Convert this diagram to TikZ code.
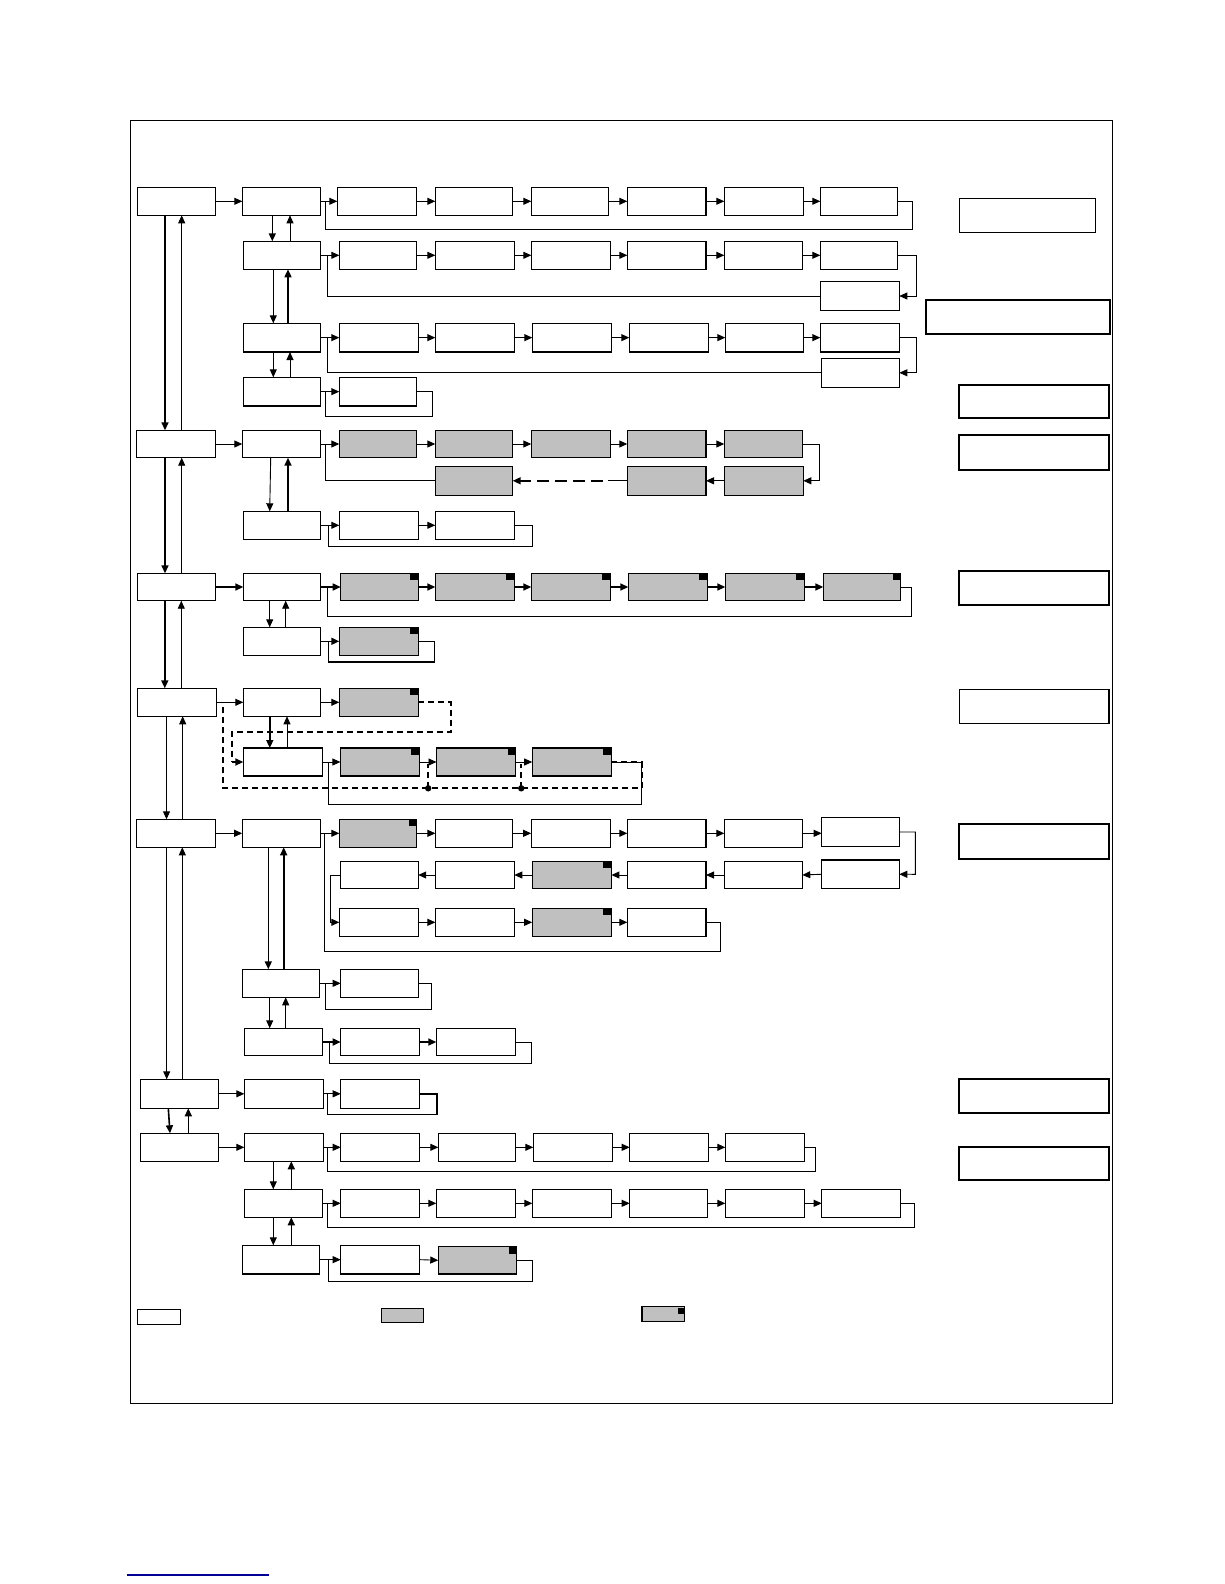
\documentclass[tikz,border=0pt]{standalone}
\usetikzlibrary{arrows.meta}
\definecolor{gr}{RGB}{192,192,192}
\definecolor{lnk}{RGB}{0,0,150}
\newcommand\mkbox[6]{%
 \pgfmathsetmacro\mkw{#5-#3}\pgfmathsetmacro\mkh{#6-#4}%
 \pgfmathsetmacro\mkx{(#3+#5)/2}\pgfmathsetmacro\mky{(#4+#6)/2}%
 \node[#1,minimum width=\mkw pt,minimum height=\mkh pt] (#2) at (\mkx,\mky) {};}
\tikzset{
 wb/.style={draw,line width=1.2pt,fill=white,inner sep=0pt,outer sep=0pt},
 gb/.style={wb,fill=gr},
 mb/.style={gb,path picture={\fill[black] ([xshift=-8pt,yshift=-7pt]path picture bounding box.north east) rectangle (path picture bounding box.north east);}},
 rb/.style={draw,line width=2pt,inner sep=0pt,outer sep=0pt},
 rbt/.style={draw,line width=1.2pt,inner sep=0pt,outer sep=0pt},
 ln/.style={line width=0.9pt},
 arr/.style={line width=0.9pt,-{Triangle[length=8pt,width=7pt]}},
 tarr/.style={line width=1.6pt,-{Triangle[length=8pt,width=7pt]}},
 tln/.style={line width=1.6pt},
 dsh/.style={line width=1.7pt,dash pattern=on 6pt off 4pt},
 ldsh/.style={line width=1.5pt,dash pattern=on 12pt off 6pt,-{Triangle[length=8pt,width=7pt]}}
}
\begin{document}
\begin{tikzpicture}[x=1pt,y=-1pt]
\useasboundingbox (0,0) rectangle (1224,1584);
\draw[line width=1pt] (130.3,120.3) rectangle (1112.3,1403.5);
% ---------- Row 1
\mkbox{wb}{A1}{137.3}{187.3}{215.3}{215.3}
\mkbox{wb}{B1}{242.3}{187.3}{320.7}{215.3}
\mkbox{wb}{r1c2}{337.3}{187.3}{416.7}{215.3}
\mkbox{wb}{r1c3}{435.3}{187.3}{512.7}{215.3}
\mkbox{wb}{r1c4}{531.3}{187.3}{608.7}{215.3}
\mkbox{wb}{r1c5}{627.3}{187.3}{706}{215.3}
\mkbox{wb}{r1c6}{724.3}{187.3}{803.3}{215.3}
\mkbox{wb}{r1c7}{820.3}{187.3}{897.7}{215.3}
\draw[arr] (A1.east) -- (B1.west);
\draw[arr] (B1.east) -- (r1c2.west);
\draw[arr] (r1c2.east) -- (r1c3.west);
\draw[arr] (r1c3.east) -- (r1c4.west);
\draw[arr] (r1c4.east) -- (r1c5.west);
\draw[arr] (r1c5.east) -- (r1c6.west);
\draw[arr] (r1c6.east) -- (r1c7.west);
\draw[ln] (r1c7.east) -| (912.3,229) -| (325.7,201.3);
% ---------- Row 2
\mkbox{wb}{B2}{243.3}{241.3}{320.7}{269.3}
\mkbox{wb}{r2c2}{339.3}{241.3}{416.7}{269.3}
\mkbox{wb}{r2c3}{435.3}{241.3}{514.3}{269.3}
\mkbox{wb}{r2c4}{531.3}{241.3}{610.3}{269.3}
\mkbox{wb}{r2c5}{627.3}{241.3}{706}{269.3}
\mkbox{wb}{r2c6}{724.3}{241.3}{802.3}{269.3}
\mkbox{wb}{r2c7}{820.3}{241.3}{897.7}{269.3}
\mkbox{wb}{r2x}{820.3}{281.7}{899.3}{310.3}
\draw[arr] (B2.east) -- (r2c2.west);
\draw[arr] (r2c2.east) -- (r2c3.west);
\draw[arr] (r2c3.east) -- (r2c4.west);
\draw[arr] (r2c4.east) -- (r2c5.west);
\draw[arr] (r2c5.east) -- (r2c6.west);
\draw[arr] (r2c6.east) -- (r2c7.west);
\draw[arr] (r2c7.east) -| (916.3,296) -- (r2x.east);
\draw[ln] (r2x.west) -| (327.3,255.3);
\draw[tarr] (B1.south -| 272.3,0) -- (B2.north -| 272.3,0);
\draw[arr] (B2.north -| 290,0) -- (B1.south -| 290,0);
% ---------- Row 3
\mkbox{wb}{B3}{243.3}{323.3}{320.7}{352}
\mkbox{wb}{r3c2}{339.3}{323.3}{418.3}{352}
\mkbox{wb}{r3c3}{435.3}{323.3}{514.3}{352}
\mkbox{wb}{r3c4}{532.3}{323.3}{611.7}{352}
\mkbox{wb}{r3c5}{629.3}{323.3}{708.7}{352}
\mkbox{wb}{r3c6}{725.3}{323.3}{803.7}{352}
\mkbox{wb}{r3c7}{820.3}{323.3}{899.3}{352}
\mkbox{wb}{r3x}{821.7}{358.3}{899.3}{387.3}
\draw[arr] (B3.east) -- (r3c2.west);
\draw[arr] (r3c2.east) -- (r3c3.west);
\draw[arr] (r3c3.east) -- (r3c4.west);
\draw[arr] (r3c4.east) -- (r3c5.west);
\draw[arr] (r3c5.east) -- (r3c6.west);
\draw[arr] (r3c6.east) -- (r3c7.west);
\draw[arr] (r3c7.east) -| (916.3,372.8) -- (r3x.east);
\draw[ln] (r3x.west) -| (327.3,337.7);
\draw[arr] (B2.south -| 273.3,0) -- (B3.north -| 273.3,0);
\draw[tarr] (B3.north -| 288,0) -- (B2.south -| 288,0);
% ---------- Row 4
\mkbox{wb}{B4}{243.3}{377.3}{320.7}{406}
\mkbox{wb}{r4c2}{339.3}{377.3}{416.7}{406}
\draw[arr] (B4.east) -- (r4c2.west);
\draw[ln] (r4c2.east) -| (432.3,416) -| (325.7,391.7);
\draw[arr] (B3.south -| 273.3,0) -- (B4.north -| 273.3,0);
\draw[arr] (B4.north -| 290,0) -- (B3.south -| 290,0);
% ---------- Row 5
\mkbox{wb}{A2}{136.7}{430.3}{215.3}{457.7}
\mkbox{wb}{B5}{242.3}{430.3}{320.7}{457.7}
\mkbox{gb}{r5c2}{339.3}{430.3}{416.7}{457.7}
\mkbox{gb}{r5c3}{435.3}{430.3}{512.7}{457.7}
\mkbox{gb}{r5c4}{531.3}{430.3}{610.3}{457.7}
\mkbox{gb}{r5c5}{627.3}{430.3}{706}{457.7}
\mkbox{gb}{r5c6}{724.3}{430.3}{802.3}{457.7}
\mkbox{gb}{r5d6}{724.3}{466.3}{803.3}{495.3}
\mkbox{gb}{r5d5}{627.3}{466.3}{706}{495.3}
\mkbox{gb}{r5d3}{435.3}{466.3}{512.7}{495.3}
\draw[arr] (A2.east) -- (B5.west);
\draw[arr] (B5.east) -- (r5c2.west);
\draw[arr] (r5c2.east) -- (r5c3.west);
\draw[arr] (r5c3.east) -- (r5c4.west);
\draw[arr] (r5c4.east) -- (r5c5.west);
\draw[arr] (r5c5.east) -- (r5c6.west);
\draw[arr] (r5c6.east) -| (819.3,480.8) -- (r5d6.east);
\draw[arr] (r5d6.west) -- (r5d5.east);
\draw[ln] (r5d5.west) -- (608,480.8);
\draw[ldsh] (603,480.8) -- (r5d3.east);
\draw[ln] (r5d3.west) -| (325.7,444);
\draw[tarr] (A1.south -| 165,0) -- (A2.north -| 165,0);
\draw[arr] (A2.north -| 181.7,0) -- (A1.south -| 181.7,0);
% ---------- Row 6
\mkbox{wb}{B6}{243.3}{511.3}{320.7}{539.3}
\mkbox{wb}{r6c2}{339.3}{511.3}{418.3}{539.3}
\mkbox{wb}{r6c3}{435.3}{511.3}{514.3}{539.3}
\draw[arr] (B6.east) -- (r6c2.west);
\draw[arr] (r6c2.east) -- (r6c3.west);
\draw[ln] (r6c3.east) -| (532.3,546) -| (328.3,525.3);
\draw[arr] (B5.south -| 270.7,0) -- (B6.north -| 269.7,0);
\draw[tarr] (B6.north -| 288,0) -- (B5.south -| 288,0);
% ---------- Row 7
\mkbox{wb}{A3}{137.3}{573.3}{215.3}{600.7}
\mkbox{wb}{B7}{243.3}{573.3}{320.7}{600.7}
\mkbox{mb}{r7c2}{340.7}{573.3}{418.3}{600.7}
\mkbox{mb}{r7c3}{435.3}{573.3}{514.3}{600.7}
\mkbox{mb}{r7c4}{531.3}{573.3}{610.3}{600.7}
\mkbox{mb}{r7c5}{628.3}{573.3}{707.3}{600.7}
\mkbox{mb}{r7c6}{725.3}{573.3}{804.3}{600.7}
\mkbox{mb}{r7c7}{823.3}{573.3}{900.7}{600.7}
\draw[tarr] (A3.east) -- (B7.west);
\draw[tarr] (B7.east) -- (r7c2.west);
\draw[tarr] (r7c2.east) -- (r7c3.west);
\draw[tarr] (r7c3.east) -- (r7c4.west);
\draw[tarr] (r7c4.east) -- (r7c5.west);
\draw[tarr] (r7c5.east) -- (r7c6.west);
\draw[tarr] (r7c6.east) -- (r7c7.west);
\draw[ln] (r7c7.east) -| (911.3,616.3) -| (327.3,587);
\draw[tarr] (A2.south -| 165,0) -- (A3.north -| 165,0);
\draw[arr] (A3.north -| 181.7,0) -- (A2.south -| 181.7,0);
% ---------- Row 8
\mkbox{wb}{B8}{243.3}{627.3}{320.7}{655.3}
\mkbox{mb}{r8c2}{339.3}{627.3}{418.3}{655.3}
\draw[tarr] (B8.east) -- (r8c2.west);
\draw[tln] (r8c2.east) -| (434.3,662) -| (328.3,641.3);
\draw[arr] (B7.south -| 269.7,0) -- (B8.north -| 269.7,0);
\draw[arr] (B8.north -| 285.7,0) -- (B7.south -| 285.7,0);
% ---------- Row 9
\mkbox{wb}{A4}{137.2}{688.3}{216.8}{716.3}
\mkbox{wb}{B9}{243.3}{688.3}{320.8}{716.3}
\mkbox{mb}{r9c2}{339.3}{688.3}{418.2}{716.3}
\draw[arr] (A4.east) -- (B9.west);
\draw[arr] (B9.east) -- (r9c2.west);
\draw[tarr] (A3.south -| 164.8,0) -- (A4.north -| 164.8,0);
\draw[arr] (A4.north -| 181.3,0) -- (A3.south -| 181.3,0);
% ---------- Row 10
\mkbox{wb}{B10}{243.3}{748}{322.1}{776}
\mkbox{mb}{r10c2}{340.4}{748}{419.2}{776}
\mkbox{mb}{r10c3}{436.5}{748}{515.7}{776}
\mkbox{mb}{r10c4}{532.2}{748}{611.4}{776}
\draw[arr] (B10.east) -- (r10c2.west);
\draw[arr] (r10c2.east) -- (r10c3.west);
\draw[arr] (r10c3.east) -- (r10c4.west);
\draw[ln] (r10c4.east) -| (641,804) -| (328.3,762);
\draw[tarr] (B9.south -| 269.8,0) -- (B10.north -| 269.8,0);
\draw[arr] (B10.north -| 287,0) -- (B9.south -| 287,0);
% dashed returns
\draw[dsh] (r9c2.east) -| (450.9,731.7) -| (231.9,762);
\draw[dsh,-{Triangle[length=8pt,width=7pt]}] (231.9,762) -- (B10.west);
\draw[dsh] (r10c4.east) -| (641.7,788.3) -| (223.3,702.3);
\draw[dsh] (428.2,788.3) -- (428.2,764);
\draw[dsh] (521.2,788.3) -- (521.2,764);
\fill (428.2,788.3) circle (3.2pt);
\fill (521.2,788.3) circle (3.2pt);
% ---------- Row 11
\mkbox{wb}{A5}{136.5}{819.3}{215.4}{847.3}
\mkbox{wb}{B11}{242.2}{819.3}{320.8}{847.3}
\mkbox{mb}{r11c2}{339.3}{819.3}{416.5}{847.3}
\mkbox{wb}{r11c3}{435.4}{819.3}{512.6}{847.3}
\mkbox{wb}{r11c4}{531.2}{819.3}{610.3}{847.3}
\mkbox{wb}{r11c5}{627.3}{819.3}{706}{847.3}
\mkbox{wb}{r11c6}{724.3}{819.3}{802.3}{847.3}
\mkbox{wb}{r11c7}{821.7}{817.5}{899.3}{846.5}
\draw[arr] (A5.east) -- (B11.west);
\draw[arr] (B11.east) -- (r11c2.west);
\draw[arr] (r11c2.east) -- (r11c3.west);
\draw[arr] (r11c3.east) -- (r11c4.west);
\draw[arr] (r11c4.east) -- (r11c5.west);
\draw[arr] (r11c5.east) -- (r11c6.west);
\draw[arr] (r11c6.east) -- (r11c7.west |- r11c6.east);
\draw[arr] (A4.south -| 166.5,0) -- (A5.north -| 166.5,0);
\draw[arr] (A5.north -| 182.7,0) -- (A4.south -| 182.7,0);
% ---------- Row 12
\mkbox{wb}{r12c7}{821.7}{860}{899.3}{888.5}
\mkbox{wb}{r12c6}{724.3}{861.3}{802.3}{888.7}
\mkbox{wb}{r12c5}{627.3}{861.3}{706}{888.7}
\mkbox{mb}{r12c4}{532.2}{861.3}{611.4}{888.7}
\mkbox{wb}{r12c3}{435.4}{861.3}{514.3}{888.7}
\mkbox{wb}{r12c2}{340.4}{861.3}{418.2}{888.7}
\draw[arr] (r11c7.east) -| (915.3,874.3) -- (r12c7.east);
\draw[arr] (r12c7.west) -- (r12c6.east);
\draw[arr] (r12c6.west) -- (r12c5.east);
\draw[arr] (r12c5.west) -- (r12c4.east);
\draw[arr] (r12c4.west) -- (r12c3.east);
\draw[arr] (r12c3.west) -- (r12c2.east);
% ---------- Row 13
\mkbox{wb}{r13c2}{339.3}{908.3}{418.2}{936.3}
\mkbox{wb}{r13c3}{435.4}{908.3}{514.3}{936.3}
\mkbox{mb}{r13c4}{532.2}{908.3}{611.4}{936.3}
\mkbox{wb}{r13c5}{627.3}{908.3}{706}{936.3}
\draw[arr] (r12c2.west) -| (330.7,922.3) -- (r13c2.west);
\draw[arr] (r13c2.east) -- (r13c3.west);
\draw[arr] (r13c3.east) -- (r13c4.west);
\draw[arr] (r13c4.east) -- (r13c5.west);
\draw[ln] (r13c5.east) -| (720.3,951.3) -| (324.2,833.3);
% ---------- Row 14
\mkbox{wb}{B12}{242.3}{969.3}{319.3}{997.3}
\mkbox{wb}{r14c2}{340.7}{969.3}{418.3}{997.3}
\draw[arr] (B12.east) -- (r14c2.west);
\draw[ln] (r14c2.east) -| (431.3,1009.3) -| (325.7,983.3);
\draw[tarr] (B11.south -| 268.3,0) -- (B12.north -| 268.3,0);
\draw[tarr] (B12.north -| 283.7,0) -- (B11.south -| 283.7,0);
% ---------- Row 15
\mkbox{wb}{B13}{244.3}{1028.3}{322.3}{1055.7}
\mkbox{wb}{r15c2}{340.7}{1028.3}{419.3}{1055.7}
\mkbox{wb}{r15c3}{436.3}{1028.3}{515.7}{1055.7}
\draw[tarr] (B13.east) -- (r15c2.west);
\draw[tarr] (r15c2.east) -- (r15c3.west);
\draw[ln] (r15c3.east) -| (531.3,1063.3) -| (329.3,1042);
\draw[arr] (B12.south -| 269.7,0) -- (B13.north -| 269.7,0);
\draw[arr] (B13.north -| 285.7,0) -- (B12.south -| 285.7,0);
% ---------- Row 16
\mkbox{wb}{A6}{140.3}{1079.3}{218.3}{1108.3}
\mkbox{wb}{B14}{244.3}{1079.3}{323.3}{1108.3}
\mkbox{wb}{r16c2}{340.7}{1079.3}{419.3}{1108.3}
\draw[arr] (A6.east) -- (B14.west);
\draw[arr] (B14.east) -- (r16c2.west);
\draw[tln] (r16c2.east) -| (437,1114.3) -| (327.3,1093.8);
\draw[arr] (A5.south -| 166.7,0) -- (A6.north -| 166.7,0);
\draw[arr] (A6.north -| 182.3,0) -- (A5.south -| 182.3,0);
% ---------- Row 17
\mkbox{wb}{A7}{140.3}{1133.3}{218.3}{1161.3}
\mkbox{wb}{B15}{244.3}{1133.3}{323.3}{1161.3}
\mkbox{wb}{r17c2}{340.7}{1133.3}{419.3}{1161.3}
\mkbox{wb}{r17c3}{438.3}{1133.3}{515.7}{1161.3}
\mkbox{wb}{r17c4}{533.3}{1133.3}{612.7}{1161.3}
\mkbox{wb}{r17c5}{629.7}{1133.3}{708.7}{1161.3}
\mkbox{wb}{r17c6}{725.3}{1133.3}{804.3}{1161.3}
\draw[arr] (A7.east) -- (B15.west);
\draw[arr] (B15.east) -- (r17c2.west);
\draw[arr] (r17c2.east) -- (r17c3.west);
\draw[arr] (r17c3.east) -- (r17c4.west);
\draw[arr] (r17c4.east) -- (r17c5.west);
\draw[arr] (r17c5.east) -- (r17c6.west);
\draw[ln] (r17c6.east) -| (815.3,1171.3) -| (327.3,1147.3);
\draw[tarr] (A6.south -| 168.3,0) -- (A7.north -| 170,0);
\draw[tarr] (A7.north -| 188.3,0) -- (A6.south -| 188.3,0);
% ---------- Row 18
\mkbox{wb}{B16}{244.3}{1189.3}{322.3}{1217.3}
\mkbox{wb}{r18c2}{340.7}{1189.3}{419.3}{1217.3}
\mkbox{wb}{r18c3}{436.3}{1189.3}{515.7}{1217.3}
\mkbox{wb}{r18c4}{532.3}{1189.3}{611.7}{1217.3}
\mkbox{wb}{r18c5}{629.7}{1189.3}{707.3}{1217.3}
\mkbox{wb}{r18c6}{725.3}{1189.3}{804.3}{1217.3}
\mkbox{wb}{r18c7}{821.7}{1189.3}{900.7}{1217.3}
\draw[arr] (B16.east) -- (r18c2.west);
\draw[arr] (r18c2.east) -- (r18c3.west);
\draw[arr] (r18c3.east) -- (r18c4.west);
\draw[arr] (r18c4.east) -- (r18c5.west);
\draw[arr] (r18c5.east) -- (r18c6.west);
\draw[arr] (r18c6.east) -- (r18c7.west);
\draw[ln] (r18c7.east) -| (914.3,1227.3) -| (327.3,1203.3);
\draw[arr] (B15.south -| 273.3,0) -- (B16.north -| 273.3,0);
\draw[tarr] (B16.north -| 291.3,0) -- (B15.south -| 291.3,0);
% ---------- Row 19
\mkbox{wb}{B17}{242.3}{1245.3}{319.3}{1274}
\mkbox{wb}{r19c2}{340.7}{1245.3}{419.3}{1274}
\mkbox{mb}{r19c3}{438.3}{1246.5}{516.7}{1274}
\draw[arr] (B17.east) -- (r19c2.west);
\draw[arr] (r19c2.east) -- (r19c3.west);
\draw[ln] (r19c3.east) -| (532.4,1281.7) -| (328,1259.7);
\draw[arr] (B16.south -| 273.3,0) -- (B17.north -| 273.3,0);
\draw[tarr] (B17.north -| 291.3,0) -- (B16.south -| 291.3,0);
% ---------- right-hand boxes
\mkbox{rbt}{R1}{959.3}{198.3}{1095.7}{232.3}
\mkbox{rb}{R2}{925.7}{300}{1109.7}{334}
\mkbox{rb}{R3}{959.3}{385}{1109.3}{418.3}
\mkbox{rb}{R4}{959.3}{435}{1109.3}{469.7}
\mkbox{rb}{R5}{959.3}{570.7}{1109.3}{605.3}
\mkbox{rbt}{R6}{959.3}{689.8}{1108.9}{723.1}
\mkbox{rb}{R7}{959.3}{824.3}{1109.3}{859}
\mkbox{rb}{R8}{959.3}{1078.7}{1109.3}{1113}
\mkbox{rb}{R9}{959.3}{1147}{1109.3}{1180.3}
% ---------- legend
\mkbox{wb}{L1}{137.5}{1309.3}{180.6}{1324.3}
\mkbox{gb}{L2}{381.3}{1308.3}{423.8}{1322.7}
\node[gb,minimum width=42.5pt,minimum height=15.4pt,
  path picture={\fill[black] ([xshift=-6.5pt,yshift=-1.5pt]path picture bounding box.north east) rectangle ([yshift=-7.5pt]path picture bounding box.north east);}]
  (L3) at (663.15,1314) {};
% ---------- link underline
\draw[lnk,line width=1.2pt] (127.3,1575) -- (269,1575);
\end{tikzpicture}
\end{document}
